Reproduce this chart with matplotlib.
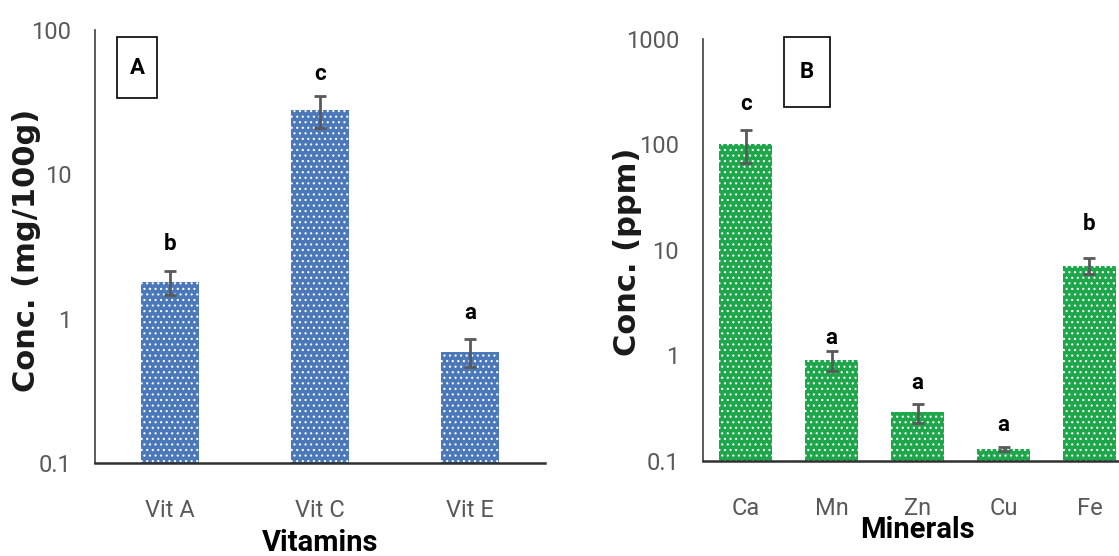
import matplotlib
matplotlib.use("Agg")
import matplotlib.pyplot as plt
from matplotlib.patches import Rectangle

# ---- data ----
vit_names = ["Vit A", "Vit C", "Vit E"]
vit_values = [1.8, 28.0, 0.59]
vit_errors = [0.33, 7.0, 0.13]
vit_letters = ["b", "c", "a"]

min_names = ["Ca", "Mn", "Zn", "Cu", "Fe"]
min_values = [102.0, 0.9, 0.29, 0.13, 7.1]
min_errors = [35.0, 0.19, 0.06, 0.006, 1.2]
min_letters = ["c", "a", "a", "a", "b"]

vit_ticks = [0.1, 1, 10, 100]
vit_ticklabels = ["0.1", "1", "10", "100"]
min_ticks = [0.1, 1, 10, 100, 1000]
min_ticklabels = ["0.1", "1", "10", "100", "1000"]

plt.rcParams['hatch.color'] = 'white'
plt.rcParams['hatch.linewidth'] = 0.8

TICKFONT = ['Roboto', 'DejaVu Sans']
GRAY = '#595959'

fig = plt.figure(figsize=(11.19, 5.56), dpi=100)
axA = fig.add_axes([0.0849, 0.167, 0.402, 0.779])
axB = fig.add_axes([0.628, 0.171, 0.384, 0.759])


def draw(ax, names, values, errors, letters, color, width, ylim, ticks, ticklabels,
         letter_offsets, ylabel, ylabel_xy, xlabel, xlabel_xy, panel, box):
    x = list(range(len(names)))
    ax.bar(x, values, width=width, color=color, hatch='...', linewidth=0)
    ax.errorbar(x, values, yerr=errors, fmt='none', ecolor=GRAY, elinewidth=2,
                capsize=4, capthick=2)
    ax.set_yscale('log')
    ax.set_ylim(*ylim)
    ax.set_xlim(-0.5, len(names) - 0.5)
    ax.set_yticks(ticks)
    ax.set_yticklabels(ticklabels)
    ax.yaxis.set_minor_locator(matplotlib.ticker.NullLocator())
    ax.set_xticks(x)
    ax.set_xticklabels(names)
    for lab in ax.get_xticklabels() + ax.get_yticklabels():
        lab.set_family(TICKFONT)
        lab.set_fontsize(17)
        lab.set_color(GRAY)
    ax.tick_params(axis='both', length=0)
    ax.tick_params(axis='x', pad=26)
    ax.tick_params(axis='y', pad=17)
    for s in ['top', 'right']:
        ax.spines[s].set_visible(False)
    ax.spines['left'].set_color('#404040')
    ax.spines['bottom'].set_color('#303030')
    ax.spines['left'].set_linewidth(1.2)
    ax.spines['bottom'].set_linewidth(1.8)
    for xi, v, e, l, off in zip(x, values, errors, letters, letter_offsets):
        ax.annotate(l, (xi, v + e), xytext=(0, off), textcoords='offset points',
                    ha='center', va='center', fontsize=16, fontweight='bold',
                    family=TICKFONT, color='black')
    fig.text(*ylabel_xy, ylabel, rotation=90, ha='center', va='center',
             fontsize=22, fontweight='bold', family='DejaVu Sans', color='#1a1a1a')
    fig.text(*xlabel_xy, xlabel, ha='center', va='center',
             fontsize=21, fontweight='bold', family=TICKFONT)
    # panel label box
    bx0, by0, bx1, by1 = box
    fig.patches.append(Rectangle((bx0, by0), bx1 - bx0, by1 - by0,
                                 transform=fig.transFigure, fill=False,
                                 edgecolor='black', linewidth=1.2))
    fig.text((bx0 + bx1) / 2, (by0 + by1) / 2, panel, ha='center', va='center',
             fontsize=16, fontweight='bold', family=TICKFONT)


draw(axA, vit_names, vit_values, vit_errors, vit_letters, '#4a78b8', 0.39,
     (0.1, 100), vit_ticks, vit_ticklabels, [20, 16, 19],
     'Conc. (mg/100g)', (27 / 1119, 1 - 250 / 556),
     'Vitamins', (320 / 1119, 1 - 543 / 556), 'A',
     (117 / 1119, 1 - 98 / 556, 157 / 1119, 1 - 37 / 556))

draw(axB, min_names, min_values, min_errors, min_letters, '#1ea64a', 0.62,
     (0.1, 1000), min_ticks, min_ticklabels, [19, 10, 15, 16, 25],
     'Conc. (ppm)', (628 / 1119, 1 - 252 / 556),
     'Minerals', (917 / 1119, 1 - 530 / 556), 'B',
     (784 / 1119, 1 - 107 / 556, 830 / 1119, 1 - 37 / 556))

fig.savefig('out.png', dpi=100)
